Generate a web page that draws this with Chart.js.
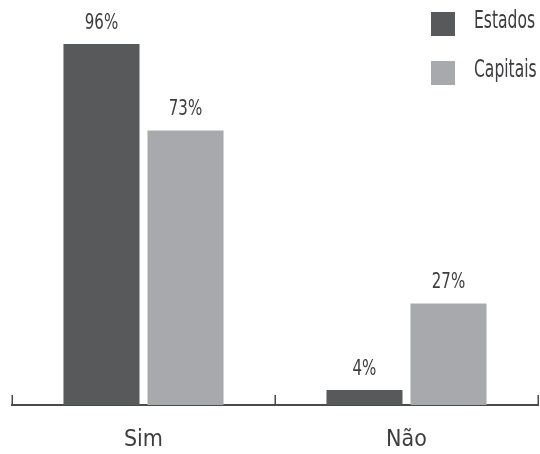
<!DOCTYPE html>
<html>
<head>
<meta charset="utf-8">
<script src="https://cdn.jsdelivr.net/npm/chart.js@4/dist/chart.umd.min.js"></script>
<style>
  html, body { margin: 0; padding: 0; background: #ffffff; }
  #wrap { width: 540px; height: 454px; }
</style>
</head>
<body>
<div id="wrap"><canvas id="c" width="540" height="454"></canvas></div>
<script>
const categories = ['Sim', 'Não'];
const seriesNames = ['Estados', 'Capitais'];
const estados = [96, 4];
const capitais = [73, 27];
const seriesColors = ['#58595b', '#a7a9ac'];

const FONT = '"DejaVu Sans Condensed", "DejaVu Sans", sans-serif';
const TEXT = '#3d3d3f';

// Draw text squeezed horizontally for a condensed look
function narrowText(ctx, text, x, y, squeeze) {
  ctx.save();
  ctx.translate(x, y);
  ctx.scale(squeeze, 1);
  ctx.fillText(text, 0, 0);
  ctx.restore();
}

// Percent labels above each bar
const valueLabels = {
  id: 'valueLabels',
  afterDatasetsDraw(chart) {
    const ctx = chart.ctx;
    ctx.save();
    ctx.font = '22px ' + FONT;
    ctx.fillStyle = TEXT;
    ctx.textAlign = 'center';
    ctx.textBaseline = 'bottom';
    chart.data.datasets.forEach((ds, i) => {
      chart.getDatasetMeta(i).data.forEach((bar, j) => {
        narrowText(ctx, ds.data[j] + '%', bar.x, bar.y - 10, 0.76);
      });
    });
    ctx.restore();
  }
};

// Upward tick marks at the category boundaries of the x axis
const boundaryTicks = {
  id: 'boundaryTicks',
  afterDraw(chart) {
    const x = chart.scales.x;
    const ctx = chart.ctx;
    const n = x.ticks.length;
    const pts = [x.left];
    for (let i = 0; i < n - 1; i++) {
      pts.push((x.getPixelForTick(i) + x.getPixelForTick(i + 1)) / 2);
    }
    pts.push(x.right);
    ctx.save();
    ctx.strokeStyle = '#4a4a4c';
    ctx.lineWidth = 1.5;
    pts.forEach(p => {
      const px = Math.round(p) + 0.25;
      ctx.beginPath();
      ctx.moveTo(px, x.top);
      ctx.lineTo(px, x.top - 10);
      ctx.stroke();
    });
    ctx.restore();
  }
};

// Legend in the top-right corner
const sideLegend = {
  id: 'sideLegend',
  afterDraw(chart) {
    const ctx = chart.ctx;
    ctx.save();
    ctx.font = '24px ' + FONT;
    ctx.textAlign = 'left';
    ctx.textBaseline = 'middle';
    chart.data.datasets.forEach((ds, i) => {
      const top = 12 + i * 49;
      ctx.fillStyle = ds.backgroundColor;
      ctx.fillRect(431, top, 24, 24);
      ctx.fillStyle = TEXT;
      narrowText(ctx, ds.label, 474, top + 10, 0.72);
    });
    ctx.restore();
  }
};

new Chart(document.getElementById('c'), {
  type: 'bar',
  data: {
    labels: categories,
    datasets: [
      { label: seriesNames[0], data: estados, backgroundColor: seriesColors[0] },
      { label: seriesNames[1], data: capitais, backgroundColor: seriesColors[1] }
    ]
  },
  options: {
    responsive: false,
    animation: false,
    devicePixelRatio: 1,
    layout: { padding: { left: 12, right: 2, top: 29, bottom: 0 } },
    datasets: { bar: { categoryPercentage: 0.639, barPercentage: 0.905 } },
    plugins: { legend: { display: false }, tooltip: { enabled: false } },
    scales: {
      x: {
        offset: true,
        grid: { display: false, drawTicks: false },
        border: { display: true, color: '#4a4a4c', width: 2 },
        ticks: { padding: 21, color: TEXT, font: { family: FONT, size: 23 } },
        afterFit(s) { s.height = 49; }
      },
      y: {
        display: false,
        min: 0,
        max: 100
      }
    }
  },
  plugins: [valueLabels, boundaryTicks, sideLegend]
});
</script>
</body>
</html>
